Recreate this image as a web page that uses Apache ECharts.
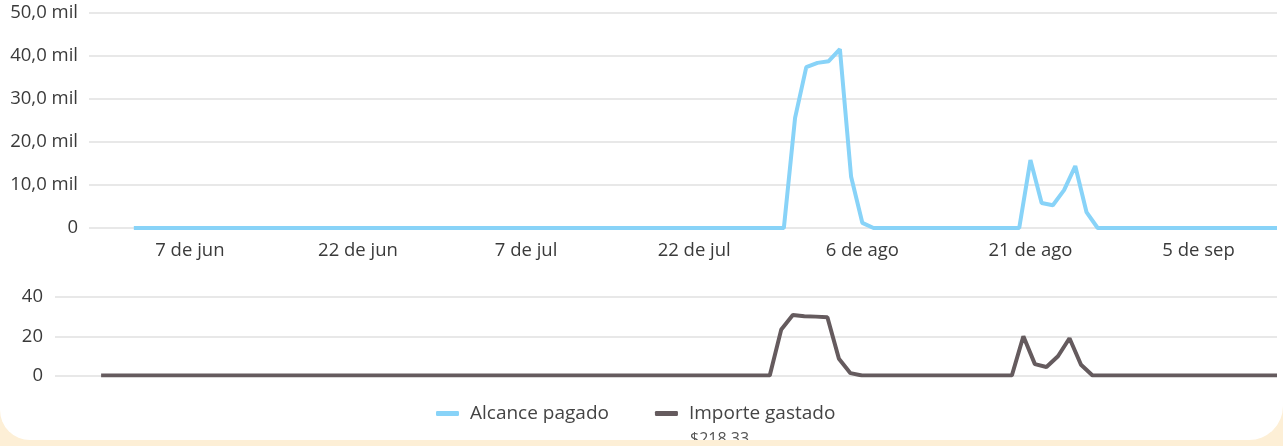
<!DOCTYPE html>
<html>
<head>
<meta charset="utf-8">
<script src="https://cdn.jsdelivr.net/npm/echarts@6/dist/echarts.min.js"></script>
<style>
    html, body { margin: 0; padding: 0; background: #fdefd6; }
    #card {
        position: absolute; left: 0; top: 0;
        width: 1283px; height: 440px;
        background: #fff;
        border-bottom-left-radius: 30px;
        border-bottom-right-radius: 34px;
        overflow: hidden;
    }
    #chart { width: 1283px; height: 446px; }
</style>
</head>
<body>
<div id="card"><div id="chart"></div></div>
<script>
    // dia 0 = 2 de jun, dia 102 = 12 de sep
    var tickDays = [5, 20, 35, 50, 65, 80, 95];
    var tickLabels = ['7 de jun', '22 de jun', '7 de jul', '22 de jul', '6 de ago', '21 de ago', '5 de sep'];

    var alcancePagado = [
        0, 0, 0, 0, 0, 0, 0, 0, 0, 0,
        0, 0, 0, 0, 0, 0, 0, 0, 0, 0,
        0, 0, 0, 0, 0, 0, 0, 0, 0, 0,
        0, 0, 0, 0, 0, 0, 0, 0, 0, 0,
        0, 0, 0, 0, 0, 0, 0, 0, 0, 0,
        0, 0, 0, 0, 0, 0, 0, 0, 0, 25600,
        37400, 38400, 38800, 41600, 11900, 1200, 0, 0, 0, 0,
        0, 0, 0, 0, 0, 0, 0, 0, 0, 0,
        15800, 5800, 5300, 8800, 14400, 3700, 0, 0, 0, 0,
        0, 0, 0, 0, 0, 0, 0, 0, 0, 0,
        0, 0, 0
    ];
    var importeGastado = [
        0, 0, 0, 0, 0, 0, 0, 0, 0, 0,
        0, 0, 0, 0, 0, 0, 0, 0, 0, 0,
        0, 0, 0, 0, 0, 0, 0, 0, 0, 0,
        0, 0, 0, 0, 0, 0, 0, 0, 0, 0,
        0, 0, 0, 0, 0, 0, 0, 0, 0, 0,
        0, 0, 0, 0, 0, 0, 0, 0, 0, 23.5,
        30.8, 30.2, 30, 29.7, 8.5, 1.2, 0, 0, 0, 0,
        0, 0, 0, 0, 0, 0, 0, 0, 0, 0,
        20, 5.8, 4.3, 9.83, 19, 5.5, 0, 0, 0, 0,
        0, 0, 0, 0, 0, 0, 0, 0, 0, 0,
        0, 0, 0
    ];

    var font = '"Open Sans", sans-serif';
    var textColor = '#3a3a3a';
    var gridColor = '#e8e8e8';

    var total = importeGastado.reduce(function (a, b) { return a + b; }, 0);
    var totalText = '$' + total.toFixed(2).replace('.', ',');

    function pairs(arr) {
        return arr.map(function (v, i) { return [i, v]; });
    }

    var chart = echarts.init(document.getElementById('chart'));
    var option = {
        animation: false,
        textStyle: { fontFamily: font },
        grid: [
            { left: 89, right: 6, top: 13, height: 215 },
            { left: 55, right: 6, top: 297, height: 78.5 }
        ],
        xAxis: [
            {
                gridIndex: 0, type: 'value', min: -4, max: 102,
                axisLine: { show: false }, axisTick: { show: false },
                splitLine: { show: false },
                axisLabel: {
                    customValues: tickDays,
                    margin: 13,
                    color: textColor, fontSize: 18.5, fontFamily: font,
                    formatter: function (v) { return tickLabels[tickDays.indexOf(v)]; }
                }
            },
            {
                gridIndex: 1, type: 'value', min: -4, max: 102,
                axisLine: { show: false }, axisTick: { show: false },
                splitLine: { show: false }, axisLabel: { show: false }
            }
        ],
        yAxis: [
            {
                gridIndex: 0, type: 'value', min: 0, max: 50000, interval: 10000,
                axisLine: { show: false }, axisTick: { show: false },
                splitLine: { lineStyle: { color: gridColor, width: 2 } },
                axisLabel: {
                    margin: 11, color: textColor, fontSize: 18.5, fontFamily: font,
                    formatter: function (v) {
                        return v === 0 ? '0' : (v / 1000).toFixed(1).replace('.', ',') + ' mil';
                    }
                }
            },
            {
                gridIndex: 1, type: 'value', min: 0, max: 40, interval: 20,
                axisLine: { show: false }, axisTick: { show: false },
                splitLine: { lineStyle: { color: gridColor, width: 2 } },
                axisLabel: { margin: 12, color: textColor, fontSize: 18.5, fontFamily: font }
            }
        ],
        legend: {
            left: 431, top: 399,
            itemWidth: 23, itemHeight: 5, itemGap: 46,
            icon: 'roundRect',
            textStyle: { color: '#444', fontSize: 19, fontFamily: font, padding: [0, 0, 0, 6] },
            data: ['Alcance pagado', 'Importe gastado']
        },
        graphic: [{
            type: 'text', left: 690, top: 431,
            style: { text: totalText, fill: '#555', font: '16px ' + font }
        }],
        series: [
            {
                name: 'Alcance pagado', type: 'line',
                xAxisIndex: 0, yAxisIndex: 0,
                showSymbol: false, symbol: 'none',
                lineStyle: { color: '#88d3f8', width: 4 },
                itemStyle: { color: '#88d3f8' },
                data: pairs(alcancePagado)
            },
            {
                name: 'Importe gastado', type: 'line',
                xAxisIndex: 1, yAxisIndex: 1,
                showSymbol: false, symbol: 'none',
                lineStyle: { color: '#655b5e', width: 4 },
                itemStyle: { color: '#655b5e' },
                data: pairs(importeGastado)
            }
        ]
    };
    chart.setOption(option);
</script>
</body>
</html>
